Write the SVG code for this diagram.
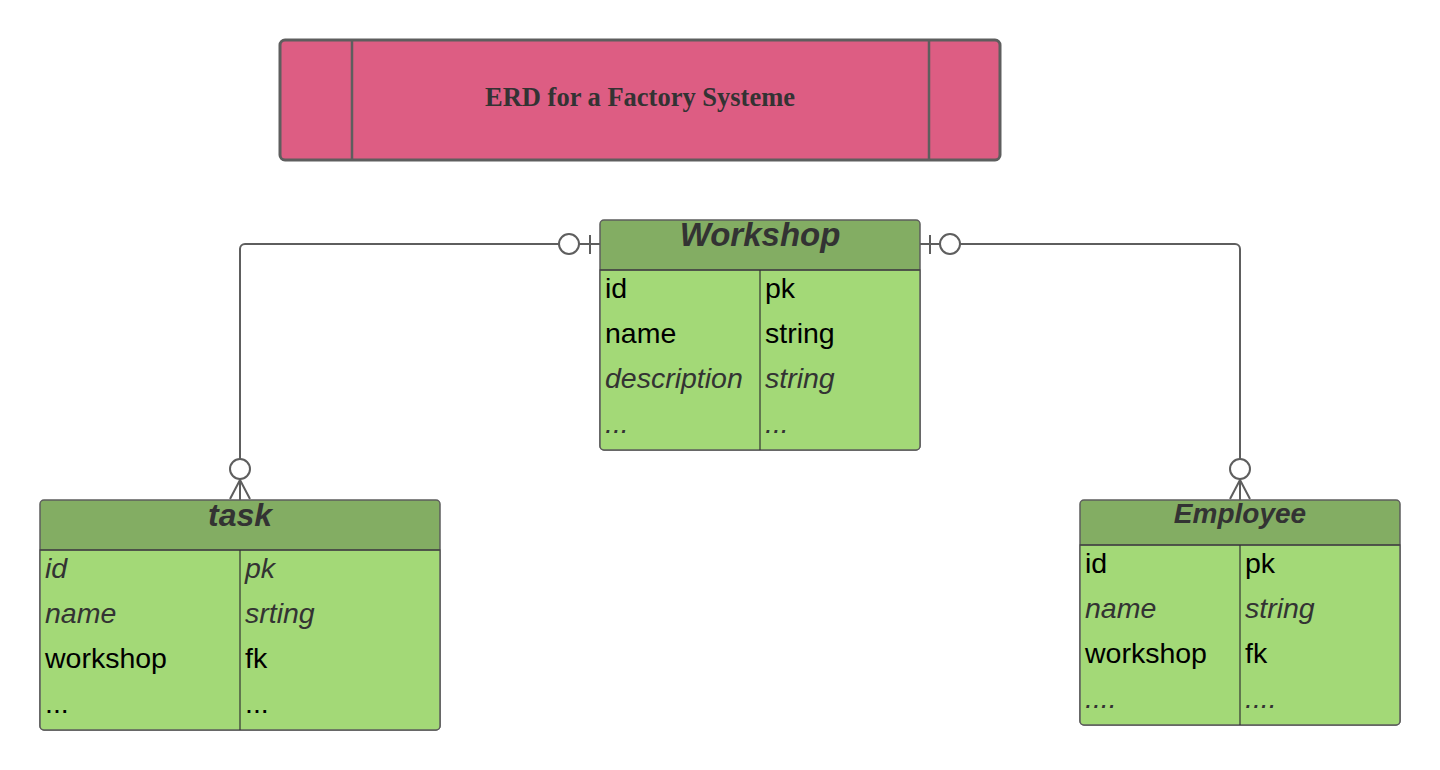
<svg xmlns="http://www.w3.org/2000/svg" width="1440" height="770" viewBox="0 0 1440 770">
<style>
.tbl{fill:#a3d977;stroke:#5e5e5e;stroke-width:1.5}
.hdr{fill:#83ad63}
.div{stroke:#333;stroke-width:1.2;fill:none}
.ht{font-family:"Liberation Sans",Arial,sans-serif;font-weight:bold;font-style:italic;fill:#333;text-anchor:middle}
.r{font-family:"Liberation Sans",Arial,sans-serif;font-size:28.5px;fill:#000}
.i{font-family:"Liberation Sans",Arial,sans-serif;font-size:28.5px;font-style:italic;fill:#333}
.ln{fill:none;stroke:#5e5e5e;stroke-width:2}
.ci{fill:#fff;stroke:#5e5e5e;stroke-width:2}
</style>
<rect width="1440" height="770" fill="#fff"/>
<g id="title">
<rect x="280" y="40" width="720" height="120" rx="5" fill="#dd5d83" stroke="#5e5e5e" stroke-width="3"/>
<line x1="352" y1="40" x2="352" y2="160" stroke="#5e5e5e" stroke-width="2.5"/>
<line x1="929" y1="40" x2="929" y2="160" stroke="#5e5e5e" stroke-width="2.5"/>
<text x="640" y="106" text-anchor="middle" font-family="'Liberation Serif','Times New Roman',serif" font-weight="bold" font-size="27" textLength="310" lengthAdjust="spacingAndGlyphs" fill="#333">ERD for a Factory Systeme</text>
</g>
<g id="workshop">
<path class="hdr" d="M600,270V224a4,4 0 0 1 4,-4H916a4,4 0 0 1 4,4V270Z"/>
<rect x="600" y="220" width="320" height="230" rx="4" fill="none" stroke="#5e5e5e" stroke-width="1.5"/>
<path class="tbl" d="M600,270H920V446a4,4 0 0 1 -4,4H604a4,4 0 0 1 -4,-4Z"/>
<line class="div" x1="600" y1="270" x2="920" y2="270"/>
<line class="div" x1="760" y1="270" x2="760" y2="450"/>
<text class="ht" x="760" y="246" font-size="33">Workshop</text>
<text class="r" x="605" y="298">id</text><text class="r" x="765" y="298">pk</text>
<text class="r" x="605" y="343">name</text><text class="r" x="765" y="343">string</text>
<text class="i" x="605" y="388">description</text><text class="i" x="765" y="388">string</text>
<text class="i" x="605" y="433">...</text><text class="i" x="765" y="433">...</text>
</g>
<g id="task">
<path class="hdr" d="M40,550V504a4,4 0 0 1 4,-4H436a4,4 0 0 1 4,4V550Z"/>
<rect x="40" y="500" width="400" height="230" rx="4" fill="none" stroke="#5e5e5e" stroke-width="1.5"/>
<path class="tbl" d="M40,550H440V726a4,4 0 0 1 -4,4H44a4,4 0 0 1 -4,-4Z"/>
<line class="div" x1="40" y1="550" x2="440" y2="550"/>
<line class="div" x1="240" y1="550" x2="240" y2="730"/>
<text class="ht" x="240" y="526" font-size="32">task</text>
<text class="i" x="45" y="578">id</text><text class="i" x="245" y="578">pk</text>
<text class="i" x="45" y="623">name</text><text class="i" x="245" y="623">srting</text>
<text class="r" x="45" y="668">workshop</text><text class="r" x="245" y="668">fk</text>
<text class="r" x="45" y="713">...</text><text class="r" x="245" y="713">...</text>
</g>
<g id="employee">
<path class="hdr" d="M1080,545V504a4,4 0 0 1 4,-4H1396a4,4 0 0 1 4,4V545Z"/>
<rect x="1080" y="500" width="320" height="225" rx="4" fill="none" stroke="#5e5e5e" stroke-width="1.5"/>
<path class="tbl" d="M1080,545H1400V721a4,4 0 0 1 -4,4H1084a4,4 0 0 1 -4,-4Z"/>
<line class="div" x1="1080" y1="545" x2="1400" y2="545"/>
<line class="div" x1="1240" y1="545" x2="1240" y2="725"/>
<text class="ht" x="1240" y="523" font-size="28">Employee</text>
<text class="r" x="1085" y="573">id</text><text class="r" x="1245" y="573">pk</text>
<text class="i" x="1085" y="618">name</text><text class="i" x="1245" y="618">string</text>
<text class="r" x="1085" y="663">workshop</text><text class="r" x="1245" y="663">fk</text>
<text class="i" x="1085" y="708">....</text><text class="i" x="1245" y="708">....</text>
</g>
<g id="connectors">
<path class="ln" d="M600,244H245a5,5 0 0 0 -5,5V500"/>
<line class="ln" x1="590" y1="235" x2="590" y2="254"/>
<circle class="ci" cx="569" cy="244" r="10"/>
<circle class="ci" cx="240" cy="469" r="10"/>
<path class="ln" d="M230,499L240,480L250,499M240,480V499"/>
<path class="ln" d="M920,244H1235a5,5 0 0 1 5,5V500"/>
<line class="ln" x1="930" y1="235" x2="930" y2="254"/>
<circle class="ci" cx="950" cy="244" r="10"/>
<circle class="ci" cx="1240" cy="469" r="10"/>
<path class="ln" d="M1230,499L1240,480L1250,499M1240,480V499"/>
</g>
</svg>
